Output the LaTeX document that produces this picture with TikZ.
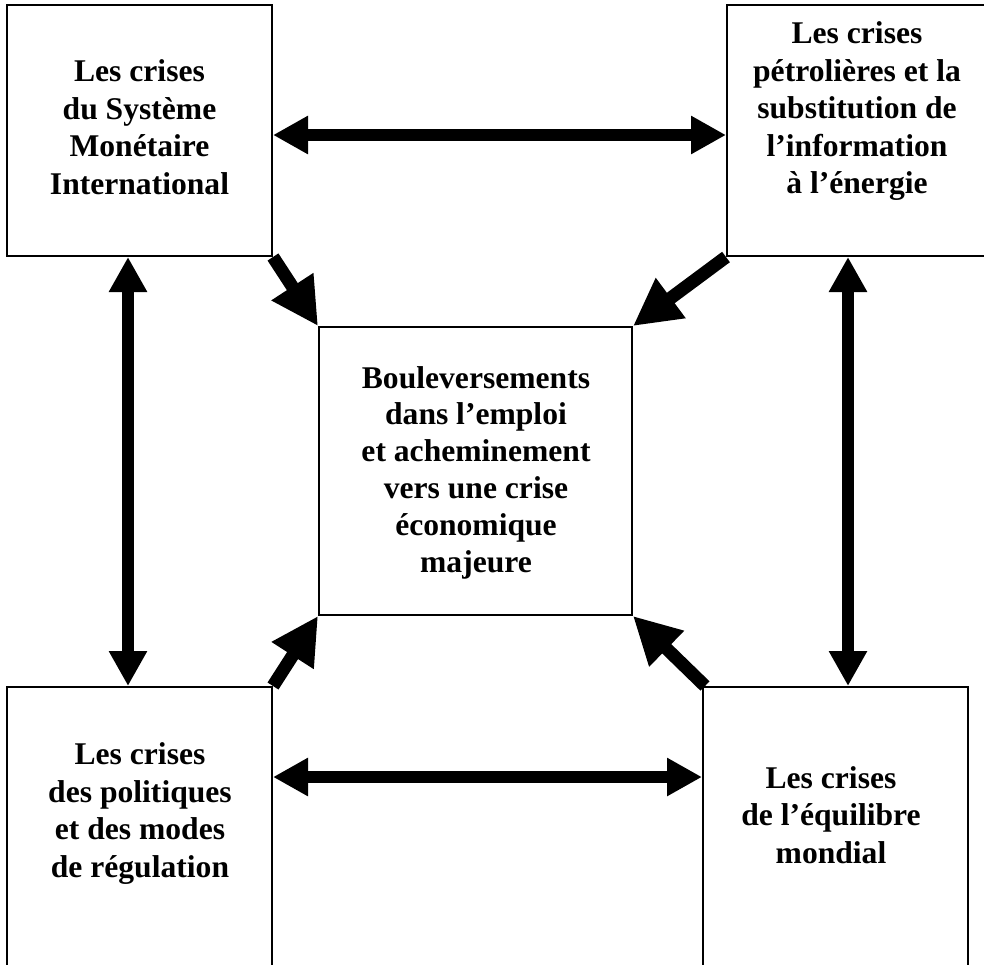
\documentclass[tikz,border=0pt]{standalone}
\usepackage{fontspec}
\setmainfont{Liberation Serif}
\usetikzlibrary{arrows.meta}
\tikzset{
  box/.style={draw, line width=1pt, inner sep=0pt, fill=white},
  txt/.style={anchor=base, align=center, inner sep=0pt,
    font=\fontsize{15.8pt}{18.7pt}\selectfont\bfseries},
  ctxt/.style={txt, font=\fontsize{15.8pt}{18.4pt}\selectfont\bfseries},
  straightarrow/.style={line width=6pt, {Triangle[length=17.5pt,width=18pt]}-{Triangle[length=17.5pt,width=18pt]}},
  diagarrow/.style={line width=6.5pt, -{Triangle[length=23.5pt,width=23.5pt]}}
}
\begin{document}
\begin{tikzpicture}[x=0.5pt,y=-0.5pt]
\useasboundingbox (0,0) rectangle (984,964);
\clip (0,0) rectangle (984,964);
\fill[white] (0,0) rectangle (984,964);
% boxes
\node[box, minimum width=132.5pt, minimum height=125.5pt] (tl) at (139.5,130.5) {};
\node[box, minimum width=132.5pt, minimum height=125.5pt] (tr) at (859.5,130.5) {};
\node[box, minimum width=156.5pt, minimum height=144pt] (c) at (475.5,471) {};
\node[box, minimum width=132.5pt, minimum height=156.5pt] (bl) at (139.5,843.5) {};
\node[box, minimum width=132.5pt, minimum height=156.5pt] (br) at (835.5,843.5) {};
% texts (anchor = baseline of the last line)
\node[txt] (tlt) at (139.5,194) {Les crises\\du Système\\Monétaire\\International};
\node[txt] (trt) at (857,193.5) {Les crises\\pétrolières et la\\substitution de\\l’information\\à l’énergie};
\node[ctxt] (ct) at (476,572) {Bouleversements\\dans l’emploi\\et acheminement\\vers une crise\\économique\\majeure};
\node[txt] (blt) at (140,877) {Les crises\\des politiques\\et des modes\\de régulation};
\node[txt] (brt) at (831,863) {Les crises\\de l’équilibre\\mondial};
% double arrows
\draw[straightarrow] ([yshift=-2.25pt]tl.east) -- ([yshift=-2.25pt]tr.west);
\draw[straightarrow] ([yshift=33.25pt]bl.east) -- ([yshift=33.25pt]br.west);
\draw[straightarrow] ([xshift=-5.75pt]tl.south) -- ([xshift=-5.75pt]bl.north);
\draw[straightarrow] ([xshift=-5.75pt]tr.south) -- ([xshift=6.25pt]br.north);
% diagonal arrows
\draw[diagarrow] (tl.south east) -- (c.north west);
\draw[diagarrow] (tr.south west) -- (c.north east);
\draw[diagarrow] (bl.north east) -- (c.south west);
\draw[diagarrow] ([xshift=1.5pt]br.north west) -- (c.south east);
\end{tikzpicture}
\end{document}
